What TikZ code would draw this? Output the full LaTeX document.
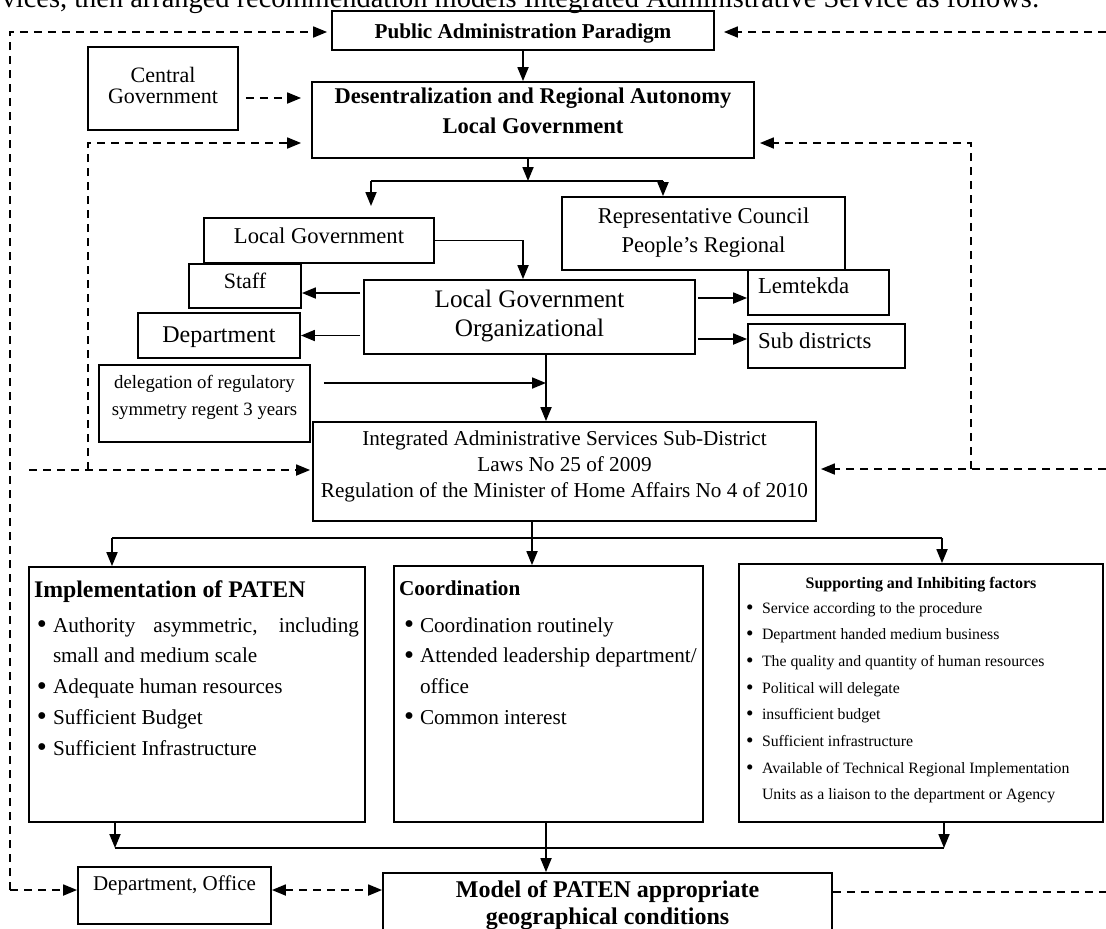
\documentclass[tikz,border=0pt]{standalone}
\usepackage{fontspec}
\setmainfont{Liberation Serif}
\usetikzlibrary{arrows.meta}
\tikzstyle{box}      = [draw, line width=0.9pt, inner sep=0pt, align=flush center]
\tikzstyle{leftbox}  = [box, align=flush left]
\tikzstyle{arrow}    = [->, line width=0.9pt]
\tikzstyle{link}     = [line width=0.9pt]
\tikzstyle{dline}    = [line width=0.9pt, dash pattern=on 4pt off 3pt]
\tikzstyle{darrow}   = [->, dline]
\newcommand{\itm}[1][4pt]{\hspace*{#1}\makebox[8pt][l]{\raisebox{-0.15ex}{\scalebox{1.35}{\textbullet}}}}

\begin{document}
\begin{tikzpicture}[x=0.5pt, y=-0.5pt, >={Triangle[length=7pt,width=5.5pt]}]
  \useasboundingbox (0,0) rectangle (1106,928);
  \clip (0,0) rectangle (1106,928);

  % line of the paper above the figure
  \node[anchor=base east, inner sep=0pt, font=\fontsize{14.2}{17}\selectfont] (intro) at (1040,7)
    {vices, then arranged recommendation models Integrated Administrative Service as follows:};

  \node[box, text width=191pt, text height=13.5pt, text depth=6pt,
        font=\bfseries\fontsize{10.6}{13}\selectfont] (pap) at (523,30.5) {Public Administration Paradigm};
  \node[box, text width=75pt, text height=17.5pt, text depth=24pt,
        font=\fontsize{11}{10.5}\selectfont] (cg) at (163,88.5) {Central\\Government};
  \node[box, text width=221pt, text height=10.5pt, text depth=27.5pt,
        font=\bfseries\fontsize{11.25}{15}\selectfont] (des) at (533,120)
    {Desentralization and Regional Autonomy\\Local Government};
  \node[box, text width=141.5pt, text height=13pt, text depth=23.5pt,
        font=\fontsize{11.3}{14.5}\selectfont] (rc) at (703.5,233.5) {Representative Council\\People's Regional};
  \node[box, text width=115pt, text height=12.5pt, text depth=10pt,
        font=\fontsize{11.3}{13}\selectfont] (lg) at (319,240.5) {Local Government};
  \node[box, text width=56pt, text height=12pt, text depth=10pt,
        font=\fontsize{11}{13}\selectfont] (staff) at (245,286) {Staff};
  \node[box, text width=81pt, text height=14.5pt, text depth=8pt,
        font=\fontsize{12}{14}\selectfont] (dept) at (219,335.5) {Department};
  \node[box, text width=165.5pt, text height=13.5pt, text depth=23.5pt,
        font=\fontsize{12.6}{14.5}\selectfont] (lgo) at (529.5,317) {Local Government\\Organizational};
  \node[leftbox, text width=70.5pt, text height=11.5pt, text depth=11pt,
        font=\fontsize{11.4}{13}\selectfont] (lem) at (818.5,292.5) {\hspace*{5pt}Lemtekda};
  \node[leftbox, text width=78.5pt, text height=12pt, text depth=10pt,
        font=\fontsize{11.4}{13}\selectfont] (sub) at (826.5,346) {\hspace*{5pt}Sub districts};
  \node[box, text width=105.5pt, text height=11.5pt, text depth=27pt,
        font=\fontsize{9.4}{13.5}\selectfont] (dele) at (204.5,403.5)
    {delegation of regulatory\\symmetry regent 3 years};
  \node[box, text width=251.5pt, text height=11.5pt, text depth=38pt,
        font=\fontsize{10.6}{13}\selectfont] (ias) at (564.5,471.5)
    {Integrated Administrative Services Sub-District\\Laws No 25 of 2009\\
     Regulation of the Minister of Home Affairs No 4 of 2010};

  \node[leftbox, text width=168pt, text height=15pt, text depth=112.5pt,
        font=\fontsize{10.6}{15.4}\selectfont] (impl) at (197,694.5)
    {\hspace*{2.5pt}{\bfseries\fontsize{11.9}{15.4}\selectfont Implementation of PATEN}\\[2.1pt]
     \itm\makebox[153pt][s]{Authority asymmetric, including}\\
     \hspace*{12pt}small and medium scale\\
     \itm Adequate human resources\\
     \itm Sufficient Budget\\
     \itm Sufficient Infrastructure};
  \node[leftbox, text width=154.5pt, text height=14.5pt, text depth=113.5pt,
        font=\fontsize{10.6}{15.4}\selectfont] (coord) at (548.5,694)
    {\hspace*{2.5pt}{\bfseries Coordination}\\[3.1pt]
     \itm[5pt]Coordination routinely\\
     \itm[5pt]Attended leadership department/\\
     \hspace*{13pt}office\\
     \itm[5pt]Common interest};
  \node[leftbox, text width=182pt, text height=12pt, text depth=117pt,
        font=\fontsize{7.9}{13.35}\selectfont] (supp) at (921,693)
    {\makebox[182pt]{\bfseries\fontsize{8}{13.35}\selectfont Supporting and Inhibiting factors}\\[-0.85pt]
     \itm[3.5pt]Service according to the procedure\\
     \itm[3.5pt]Department handed medium business\\
     \itm[3.5pt]The quality and quantity of human resources\\
     \itm[3.5pt]Political will delegate\\
     \itm[3.5pt]insufficient budget\\
     \itm[3.5pt]Sufficient infrastructure\\
     \itm[3.5pt]Available of Technical Regional Implementation\\
     \hspace*{11.5pt}Units as a liaison to the department or Agency};

  \node[box, text width=96.5pt, text height=11.5pt, text depth=17pt,
        font=\fontsize{10.5}{13}\selectfont] (dof) at (174.5,895.5) {Department, Office};
  \node[box, text width=224.5pt, text height=12pt, text depth=19pt,
        font=\bfseries\fontsize{12}{13.5}\selectfont] (model) at (607.5,904)
    {Model of PATEN appropriate\\geographical conditions};

  % turning points and free ends
  \coordinate (ol) at (10,32);
  \coordinate (olb) at (10,890);
  \coordinate (or) at (1106,32);
  \coordinate (ycg) at (0,98);
  \coordinate (yd) at (0,143);
  \coordinate (il) at (88,470);
  \coordinate (ill) at (29,470);
  \coordinate (ir) at (971,469);
  \coordinate (irr) at (1106,469);
  \coordinate (br) at (528,181);
  \coordinate (brl) at (371,181);
  \coordinate (brr) at (663,181);
  \coordinate (brld) at (371,206);
  \coordinate (lgk) at (523,0);
  \coordinate (ys) at (0,293);
  \coordinate (yl) at (0,298);
  \coordinate (ysd) at (0,339);
  \coordinate (xv) at (546,0);
  \coordinate (ydl) at (0,383);
  \coordinate (xm) at (532,0);
  \coordinate (bl) at (112,538);
  \coordinate (bbr) at (942,538);
  \coordinate (cl) at (115,848);
  \coordinate (cr) at (944,848);
  \coordinate (ydm) at (0,890);
  \coordinate (er) at (1106,892);

  % dashed feedback lines
  \draw[darrow, shorten >=2pt] (olb) -- (ol) -- (pap.west |- ol);
  \draw[darrow] (olb) -- (dof.west |- olb);
  \draw[darrow, shorten >=4.5pt] (or) -- (pap.east |- or);
  \draw[darrow, shorten <=3.5pt, shorten >=5pt] (cg.east |- ycg) -- (des.west |- ycg);
  \draw[darrow, shorten >=5pt] (il) |- (des.west |- yd);
  \draw[darrow, shorten >=1pt] (ill) -- (ias.west |- ill);
  \draw[darrow, shorten >=2.5pt] (ir) |- (des.east |- yd);
  \draw[darrow, shorten >=2pt] (irr) -- (ias.east |- irr);
  \draw[dline, <->] (dof.east |- ydm) -- (model.west |- ydm);
  \draw[dline] (model.east |- er) -- (er);

  % solid flow
  \draw[arrow] (pap.south) -- (pap.south |- des.north);
  \draw[arrow] (des.south -| br) -- (br);
  \draw[link] (brl) -- (brr);
  \draw[arrow] (brl) -- (brld);
  \draw[arrow] (brr) -- (brr |- rc.north);
  \draw[arrow] (lg.east) -| (lgk |- lgo.north);
  \draw[arrow, shorten <=1.5pt] (lgo.west |- ys) -- (staff.east |- ys);
  \draw[arrow, shorten <=1.5pt] (lgo.west |- dept.east) -- (dept.east);
  \draw[arrow, shorten <=1pt] (lgo.east |- yl) -- (lem.west |- yl);
  \draw[arrow, shorten <=1pt] (lgo.east |- ysd) -- (sub.west |- ysd);
  \draw[arrow] (lgo.south -| xv) -- (ias.north -| xv);
  \draw[arrow, shorten <=6.5pt] (dele.east |- ydl) -- (xv |- ydl);
  \draw[arrow] (ias.south -| xm) -- (coord.north -| xm);
  \draw[link] (bl) -- (bbr);
  \draw[arrow] (bl) -- (bl |- impl.north);
  \draw[arrow] (bbr) -- (bbr |- supp.north);
  \draw[link] (cl) -- (cr);
  \draw[arrow] (impl.south -| cl) -- (cl);
  \draw[arrow] (supp.south -| cr) -- (cr);
  \draw[arrow] (coord.south -| xv) -- (model.north -| xv);
\end{tikzpicture}
\end{document}
